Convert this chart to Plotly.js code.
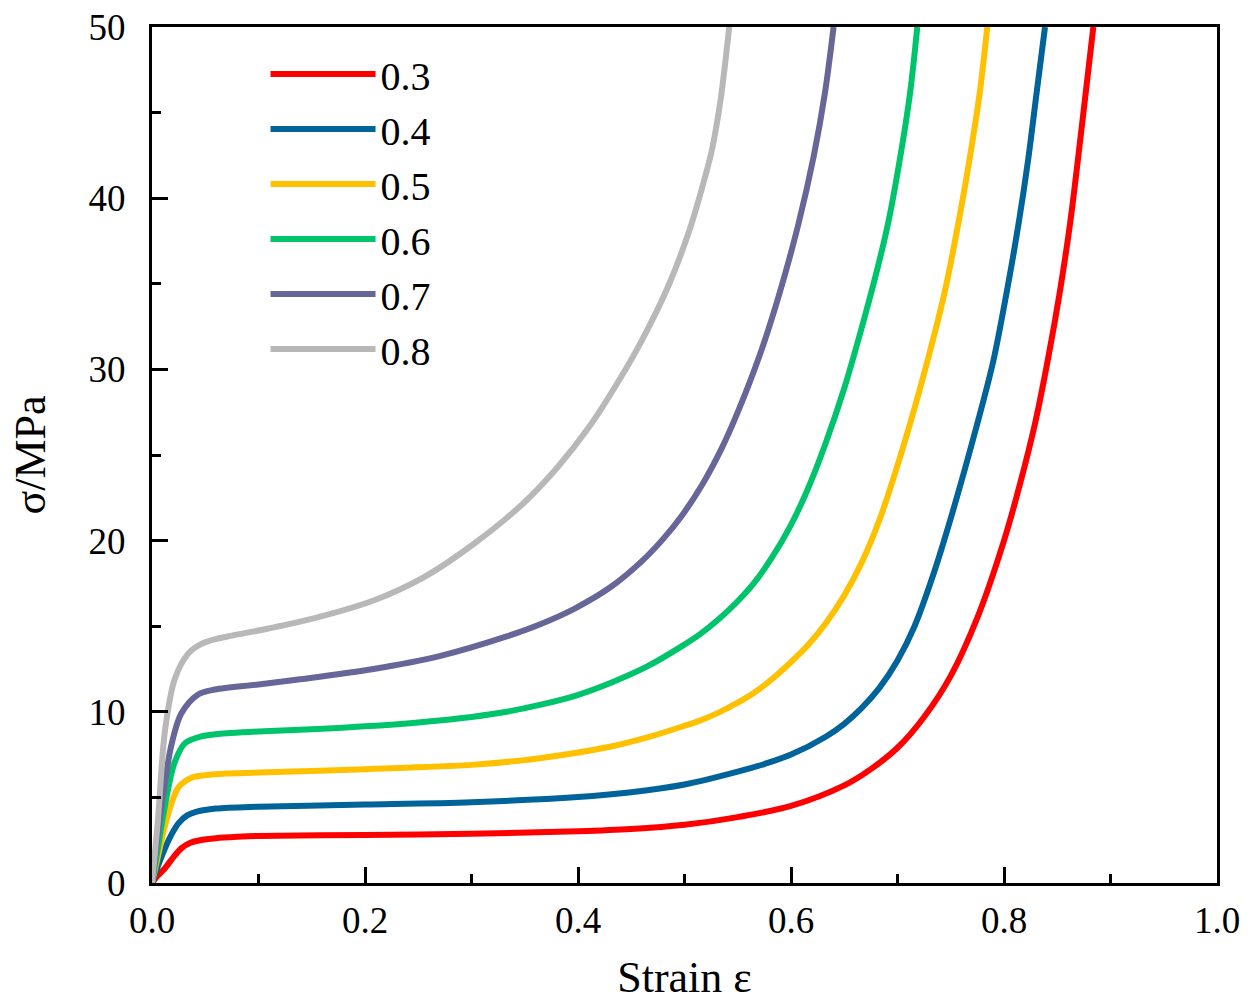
<!DOCTYPE html>
<html>
<head>
<meta charset="utf-8">
<script src="https://cdn.plot.ly/plotly-3.0.1.min.js"></script>
<style>html,body{margin:0;padding:0;background:#fff;}#chart{width:1256px;height:1002px;}</style>
</head>
<body>
<div id="chart"></div>
<script>
// Series names (legend labels)
const seriesNames = ["0.3", "0.4", "0.5", "0.6", "0.7", "0.8"];
const seriesColors = ["#FF0000", "#006399", "#FFC000", "#00C46C", "#666699", "#B8B8B8"];

// Strain (x) and stress (y, MPa) values
const x03 = [0, 0.005, 0.012, 0.02, 0.028, 0.036, 0.045, 0.06, 0.08, 0.1, 0.2, 0.3, 0.4, 0.45, 0.5, 0.55, 0.6, 0.65, 0.675, 0.7, 0.725, 0.75, 0.775, 0.8, 0.815, 0.829, 0.8416, 0.8526, 0.862, 0.8695, 0.8768, 0.8839];
const y03 = [0, 0.4, 0.85, 1.5, 2.05, 2.35, 2.5, 2.62, 2.7, 2.75, 2.8, 2.88, 3.02, 3.15, 3.4, 3.85, 4.5, 5.7, 6.65, 7.9, 9.7, 12.1, 15.5, 20.0, 23.3, 26.8, 30.7, 34.6, 38.5, 42.3, 46.2, 50];

const x04 = [0, 0.005, 0.012, 0.018, 0.025, 0.033, 0.042, 0.06, 0.1, 0.2, 0.3, 0.4, 0.45, 0.5, 0.55, 0.575, 0.6, 0.633, 0.65, 0.666, 0.683, 0.7, 0.716, 0.733, 0.75, 0.7735, 0.79, 0.8025, 0.8134, 0.8228, 0.8307, 0.8385];
const y04 = [0, 0.9, 2.0, 2.8, 3.5, 3.95, 4.17, 4.35, 4.46, 4.58, 4.72, 5.02, 5.3, 5.75, 6.5, 6.95, 7.5, 8.56, 9.3, 10.2, 11.4, 13.0, 15.0, 17.9, 21.3, 26.5, 30.5, 34.5, 38.4, 42.3, 46.2, 50];

const x05 = [0, 0.005, 0.012, 0.018, 0.025, 0.037, 0.05, 0.07, 0.1, 0.2, 0.3, 0.364, 0.431, 0.465, 0.498, 0.515, 0.532, 0.549, 0.565, 0.582, 0.599, 0.616, 0.633, 0.65, 0.667, 0.683, 0.697, 0.7117, 0.729, 0.7446, 0.757, 0.768, 0.7775, 0.7843];
const y05 = [0, 1.4, 3.3, 4.6, 5.6, 6.15, 6.3, 6.4, 6.45, 6.65, 6.9, 7.29, 7.97, 8.5, 9.14, 9.5, 9.95, 10.5, 11.1, 11.9, 12.85, 13.9, 15.2, 16.8, 18.8, 21.2, 23.8, 26.8, 30.7, 34.6, 38.5, 42.4, 46.3, 50];

const x06 = [0, 0.006, 0.012, 0.021, 0.031, 0.046, 0.07, 0.1, 0.15, 0.2, 0.25, 0.3, 0.333, 0.364, 0.398, 0.431, 0.465, 0.498, 0.515, 0.532, 0.549, 0.565, 0.582, 0.599, 0.615, 0.632, 0.65, 0.668, 0.682, 0.6914, 0.7023, 0.7117, 0.7186];
const y06 = [0, 2.2, 4.46, 7.0, 8.17, 8.56, 8.75, 8.85, 8.98, 9.15, 9.38, 9.7, 10.0, 10.4, 10.95, 11.7, 12.65, 13.85, 14.55, 15.4, 16.4, 17.5, 19.0, 20.8, 22.9, 25.6, 28.9, 32.8, 36.1, 38.6, 42.3, 46.1, 50];

const x07 = [0, 0.009, 0.018, 0.0275, 0.043, 0.059, 0.1, 0.139, 0.208, 0.27, 0.333, 0.364, 0.396, 0.431, 0.46, 0.48, 0.498, 0.516, 0.535, 0.55, 0.571, 0.589, 0.607, 0.6215, 0.632, 0.64];
const y07 = [0, 4.46, 8.0, 9.9, 11.0, 11.3, 11.6, 11.9, 12.5, 13.25, 14.4, 15.1, 16.0, 17.3, 18.8, 20.1, 21.5, 23.2, 25.4, 27.5, 30.9, 34.4, 38.5, 42.5, 46.2, 50];

const x08 = [0, 0.0056, 0.012, 0.0213, 0.034, 0.046, 0.06, 0.075, 0.1, 0.145, 0.208, 0.255, 0.302, 0.349, 0.381, 0.41, 0.434, 0.46, 0.485, 0.505, 0.52, 0.526, 0.534, 0.542];
const y08 = [0, 3.7, 8.8, 11.9, 13.4, 13.95, 14.25, 14.45, 14.75, 15.35, 16.5, 17.85, 19.8, 22.2, 24.3, 26.6, 28.9, 31.7, 34.9, 38.2, 41.4, 42.9, 45.8, 50];

const xSeries = [x03, x04, x05, x06, x07, x08];
const ySeries = [y03, y04, y05, y06, y07, y08];

const xTickVals = [0, 0.2, 0.4, 0.6, 0.8, 1.0];
const xTickText = ["0.0", "0.2", "0.4", "0.6", "0.8", "1.0"];
const yTickVals = [0, 10, 20, 30, 40, 50];
const yTickText = ["0", "10", "20", "30", "40", "50"];

const FONT = "'Liberation Serif', 'Times New Roman', serif";

const traces = seriesNames.map((name, i) => ({
  type: 'scatter',
  mode: 'lines',
  name: name,
  x: xSeries[i],
  y: ySeries[i],
  line: {color: seriesColors[i], width: 6, shape: 'spline', smoothing: 0.9},
  hoverinfo: 'x+y+name'
}));

const axisCommon = {
  showline: true, linecolor: '#000', linewidth: 3, mirror: true,
  showgrid: false, zeroline: false,
  ticks: 'inside', ticklen: 16, tickwidth: 3, tickcolor: '#000',
  tickfont: {family: FONT, size: 37, color: '#000'}
};

const layout = {
  width: 1256, height: 1002,
  margin: {l: 152, r: 39, t: 27, b: 119},
  paper_bgcolor: '#fff', plot_bgcolor: '#fff',
  font: {family: FONT, color: '#000'},
  showlegend: true,
  legend: {
    x: 0.1066, y: 0.983, xanchor: 'left', yanchor: 'top',
    bgcolor: 'rgba(0,0,0,0)', borderwidth: 0,
    font: {family: FONT, size: 40, color: '#000'},
    itemwidth: 105, tracegroupgap: 0
  },
  xaxis: Object.assign({}, axisCommon, {
    range: [0, 1],
    tickmode: 'array', tickvals: xTickVals, ticktext: xTickText,
    ticklabelstandoff: 3,
    minor: {dtick: 0.1, tick0: 0, ticks: 'inside', ticklen: 9, tickwidth: 3, tickcolor: '#000'},
    title: {text: 'Strain ε', font: {family: FONT, size: 44, color: '#000'}, standoff: 22}
  }),
  yaxis: Object.assign({}, axisCommon, {
    range: [0, 50],
    tickmode: 'array', tickvals: yTickVals, ticktext: yTickText,
    ticklabelstandoff: 16,
    minor: {dtick: 5, tick0: 0, ticks: 'inside', ticklen: 9, tickwidth: 3, tickcolor: '#000'},
    title: {text: 'σ/MPa', font: {family: FONT, size: 44, color: '#000'}, standoff: 30}
  })
};

Plotly.newPlot('chart', traces, layout, {displayModeBar: false});
</script>
</body>
</html>
